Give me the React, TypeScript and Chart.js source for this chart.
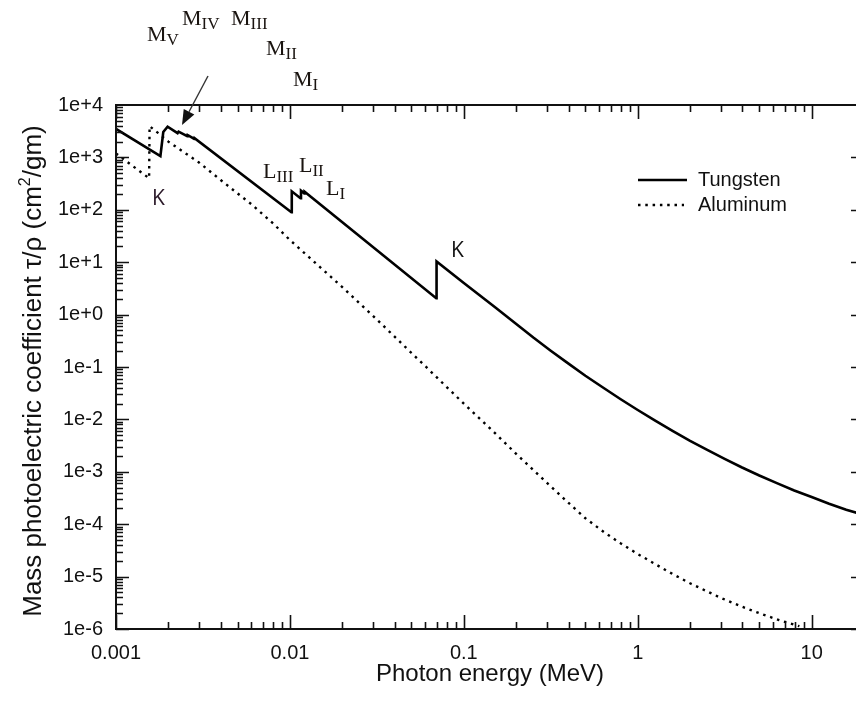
import React, { useEffect, useRef } from 'react';
import { Chart, registerables } from 'chart.js';

Chart.register(...registerables);

// ---- data ----
const tungstenEnergy = [0.001, 0.0018, 0.00187, 0.00198, 0.00226, 0.00229, 0.00257, 0.00259, 0.00282, 0.00284, 0.0102, 0.01025, 0.0115, 0.01158, 0.0121, 0.01215, 0.0694, 0.0697, 0.1, 0.15, 0.215, 0.251, 0.316, 0.398, 0.5, 0.631, 0.794, 1, 1.26, 1.585, 2, 2.51, 3.16, 3.98, 5, 6.31, 7.94, 10, 12.6, 15.8, 20];
const tungstenCoeff = [3500, 1060, 3050, 3850, 2900, 3100, 2550, 2650, 2250, 2300, 90, 225, 166, 232, 206, 222, 2.05, 10.3, 4.0, 1.41, 0.55, 0.365, 0.205, 0.1175, 0.068, 0.0406, 0.0245, 0.0151, 0.00948, 0.00605, 0.0039, 0.00261, 0.00177, 0.00121, 0.00085, 0.000607, 0.00044, 0.00033, 0.000246, 0.000189, 0.00015];

const aluminumEnergy = [0.001, 0.00155, 0.00156, 0.00175, 0.002, 0.003, 0.004, 0.005, 0.006, 0.008, 0.01, 0.015, 0.02, 0.03, 0.04, 0.05, 0.06, 0.08, 0.1, 0.15, 0.2, 0.3, 0.4, 0.5, 0.645, 0.8, 1, 1.5, 2, 3, 4, 5, 6.5, 8.5];
const aluminumCoeff = [1185, 400, 3950, 2900, 2000, 800, 370, 205, 128, 55, 26.5, 7.9, 3.35, 0.95, 0.38, 0.185, 0.104, 0.041, 0.02, 0.0056, 0.0022, 0.00062, 0.000255, 0.00013, 0.000069, 0.000043, 0.000027, 0.0000124, 0.00000745, 0.00000394, 0.00000264, 0.000002, 0.00000148, 0.00000113];

const seriesNames = ['Tungsten', 'Aluminum'];

const xTickValues = [0.001, 0.01, 0.1, 1, 10];
const xTickLabels = ['0.001', '0.01', '0.1', '1', '10'];
const yTickValues = [1e-6, 1e-5, 1e-4, 1e-3, 1e-2, 1e-1, 1, 10, 100, 1000, 10000];
const yTickLabels = ['1e-6', '1e-5', '1e-4', '1e-3', '1e-2', '1e-1', '1e+0', '1e+1', '1e+2', '1e+3', '1e+4'];

const xTitle = 'Photon energy (MeV)';
const yTitleParts = ['Mass photoelectric coefficient \u03c4/\u03c1 (cm', '2', '/gm)'];

// edge annotations: [main, subscript]
const mLabels = [['M', 'V'], ['M', 'IV'], ['M', 'III'], ['M', 'II'], ['M', 'I']];
const lLabels = [['L', 'III'], ['L', 'II'], ['L', 'I']];
const kLabel = 'K';

// ---- styles / layout ----
const SANS = '"Liberation Sans", Arial, sans-serif';
const SERIF = '"Liberation Serif", "Times New Roman", serif';
const INK = '#111';
const DOTS = [2.5, 4.8];

const mPos = [[147, 41], [182, 25], [231, 25], [266, 55], [293, 86]];
const lPos = [[263, 178], [299, 172], [326, 195]];

const overlay = {
  id: 'overlay',
  afterDraw(chart: any) {
    const { ctx, chartArea: a, scales } = chart;
    const xs = scales.x;
    const ys = scales.y;
    ctx.save();

    // frame
    ctx.strokeStyle = INK;
    ctx.lineWidth = 2;
    ctx.setLineDash([]);
    ctx.strokeRect(a.left, a.top, a.right - a.left, a.bottom - a.top);

    // inward ticks
    ctx.lineWidth = 1.6;
    ctx.beginPath();
    for (const d of xTickValues) {
      for (let m = 1; m <= 9; m++) {
        const v = d * m;
        if (v < xs.min * 0.999 || v > xs.max * 0.999) continue;
        const px = Math.round(xs.getPixelForValue(v)) + 0.5;
        const len = m === 1 ? 14 : 7;
        ctx.moveTo(px, a.bottom);
        ctx.lineTo(px, a.bottom - len);
        ctx.moveTo(px, a.top);
        ctx.lineTo(px, a.top + len);
      }
    }
    for (const d of yTickValues) {
      for (let m = 1; m <= 9; m++) {
        const v = d * m;
        if (v < ys.min * 0.999 || v > ys.max * 0.999) continue;
        const py = Math.round(ys.getPixelForValue(v)) + 0.5;
        const len = m === 1 ? 13 : 7;
        ctx.moveTo(a.left, py);
        ctx.lineTo(a.left + len, py);
        ctx.moveTo(a.right, py);
        ctx.lineTo(a.right - len, py);
      }
    }
    ctx.stroke();

    // axis titles
    ctx.fillStyle = INK;
    ctx.font = `24px ${SANS}`;
    ctx.textAlign = 'center';
    ctx.textBaseline = 'middle';
    ctx.fillText(xTitle, (a.left + a.right) / 2, 674);

    ctx.save();
    ctx.translate(41, (a.top + a.bottom) / 2 + 4);
    ctx.rotate(-Math.PI / 2);
    ctx.textBaseline = 'alphabetic';
    ctx.textAlign = 'left';
    const bigFont = `26px ${SANS}`;
    const supFont = `16px ${SANS}`;
    ctx.font = bigFont;
    const w0 = ctx.measureText(yTitleParts[0]).width;
    const w2 = ctx.measureText(yTitleParts[2]).width;
    ctx.font = supFont;
    const w1 = ctx.measureText(yTitleParts[1]).width;
    let tx = -(w0 + w1 + w2) / 2;
    ctx.font = bigFont;
    ctx.fillText(yTitleParts[0], tx, 0);
    tx += w0;
    ctx.font = supFont;
    ctx.fillText(yTitleParts[1], tx, -11);
    tx += w1;
    ctx.font = bigFont;
    ctx.fillText(yTitleParts[2], tx, 0);
    ctx.restore();

    // legend
    ctx.lineWidth = 2.6;
    ctx.strokeStyle = '#000';
    ctx.beginPath();
    ctx.moveTo(638, 180);
    ctx.lineTo(687, 180);
    ctx.stroke();
    ctx.setLineDash(DOTS);
    ctx.lineWidth = 2.4;
    ctx.beginPath();
    ctx.moveTo(638, 205);
    ctx.lineTo(684, 205);
    ctx.stroke();
    ctx.setLineDash([]);
    ctx.font = `20px ${SANS}`;
    ctx.textAlign = 'left';
    ctx.textBaseline = 'middle';
    ctx.fillStyle = INK;
    ctx.fillText(seriesNames[0], 698, 180);
    ctx.fillText(seriesNames[1], 698, 205);

    // edge labels with subscripts
    const drawSub = (main: string, sub: string, x: number, y: number) => {
      ctx.textAlign = 'left';
      ctx.textBaseline = 'alphabetic';
      ctx.font = `22px ${SERIF}`;
      ctx.fillText(main, x, y);
      const w = ctx.measureText(main).width;
      ctx.font = `17px ${SERIF}`;
      ctx.fillText(sub, x + w, y + 4);
    };
    ctx.fillStyle = '#1a1410';
    mLabels.forEach((l, i) => drawSub(l[0], l[1], mPos[i][0], mPos[i][1]));
    lLabels.forEach((l, i) => drawSub(l[0], l[1], lPos[i][0], lPos[i][1]));

    ctx.font = `21px "Open Sans", ${SANS}`;
    ctx.textBaseline = 'alphabetic';
    ctx.fillStyle = '#2a1828';
    ctx.fillText(kLabel, 152, 205);
    ctx.fillStyle = INK;
    ctx.fillText(kLabel, 451, 257);

    // arrow toward the M edges
    const x1 = 208, y1 = 76, x2 = 182, y2 = 125;
    const ang = Math.atan2(y2 - y1, x2 - x1);
    const hl = 15, hw = 6;
    const bx = x2 - hl * Math.cos(ang), by = y2 - hl * Math.sin(ang);
    ctx.strokeStyle = '#333';
    ctx.lineWidth = 1.4;
    ctx.beginPath();
    ctx.moveTo(x1, y1);
    ctx.lineTo(bx, by);
    ctx.stroke();
    ctx.fillStyle = '#111';
    ctx.beginPath();
    ctx.moveTo(x2, y2);
    ctx.lineTo(bx + hw * Math.sin(ang), by - hw * Math.cos(ang));
    ctx.lineTo(bx - hw * Math.sin(ang), by + hw * Math.cos(ang));
    ctx.closePath();
    ctx.fill();

    ctx.restore();
  },
};

export default function App() {
  const ref = useRef<HTMLCanvasElement | null>(null);

  useEffect(() => {
    const canvas = ref.current;
    if (!canvas) return;
    const chart = new Chart(canvas, {
      type: 'scatter',
      data: {
        datasets: [
          {
            label: seriesNames[0],
            data: tungstenEnergy.map((e, i) => ({ x: e, y: tungstenCoeff[i] })),
            showLine: true,
            borderColor: '#000',
            backgroundColor: '#000',
            borderWidth: 2.6,
            pointRadius: 0,
            tension: 0,
          },
          {
            label: seriesNames[1],
            data: aluminumEnergy.map((e, i) => ({ x: e, y: aluminumCoeff[i] })),
            showLine: true,
            borderColor: '#000',
            backgroundColor: '#000',
            borderWidth: 2.4,
            borderDash: DOTS,
            pointRadius: 0,
            tension: 0,
          },
        ],
      },
      options: {
        animation: false,
        responsive: false,
        layout: { padding: { left: 0, right: 16, top: 105, bottom: 0 } },
        plugins: { legend: { display: false }, tooltip: { enabled: false } },
        scales: {
          x: {
            type: 'logarithmic',
            position: 'bottom',
            min: 0.001,
            max: 20,
            grid: { display: false, drawTicks: false },
            border: { display: false },
            afterBuildTicks: (s: any) => {
              s.ticks = xTickValues.map((v) => ({ value: v }));
            },
            afterFit: (s: any) => {
              s.height = 86;
            },
            ticks: {
              autoSkip: false,
              maxRotation: 0,
              padding: 12,
              color: INK,
              font: { family: SANS, size: 20 },
              callback: (_v: any, i: number) => xTickLabels[i],
            },
          },
          y: {
            type: 'logarithmic',
            position: 'left',
            min: 1e-6,
            max: 1e4,
            grid: { display: false, drawTicks: false },
            border: { display: false },
            afterBuildTicks: (s: any) => {
              s.ticks = yTickValues.map((v) => ({ value: v }));
            },
            afterFit: (s: any) => {
              s.width = 116;
            },
            ticks: {
              autoSkip: false,
              padding: 13,
              color: INK,
              font: { family: SANS, size: 20 },
              callback: (_v: any, i: number) => yTickLabels[i],
            },
          },
        },
      },
      plugins: [overlay],
    } as any);
    return () => chart.destroy();
  }, []);

  return (
    <div style={{ position: 'fixed', left: 0, top: 0, width: 856, height: 715, overflow: 'hidden', background: '#fff' }}>
      <canvas ref={ref} width={880} height={715} style={{ display: 'block', width: 880, height: 715 }} />
    </div>
  );
}
